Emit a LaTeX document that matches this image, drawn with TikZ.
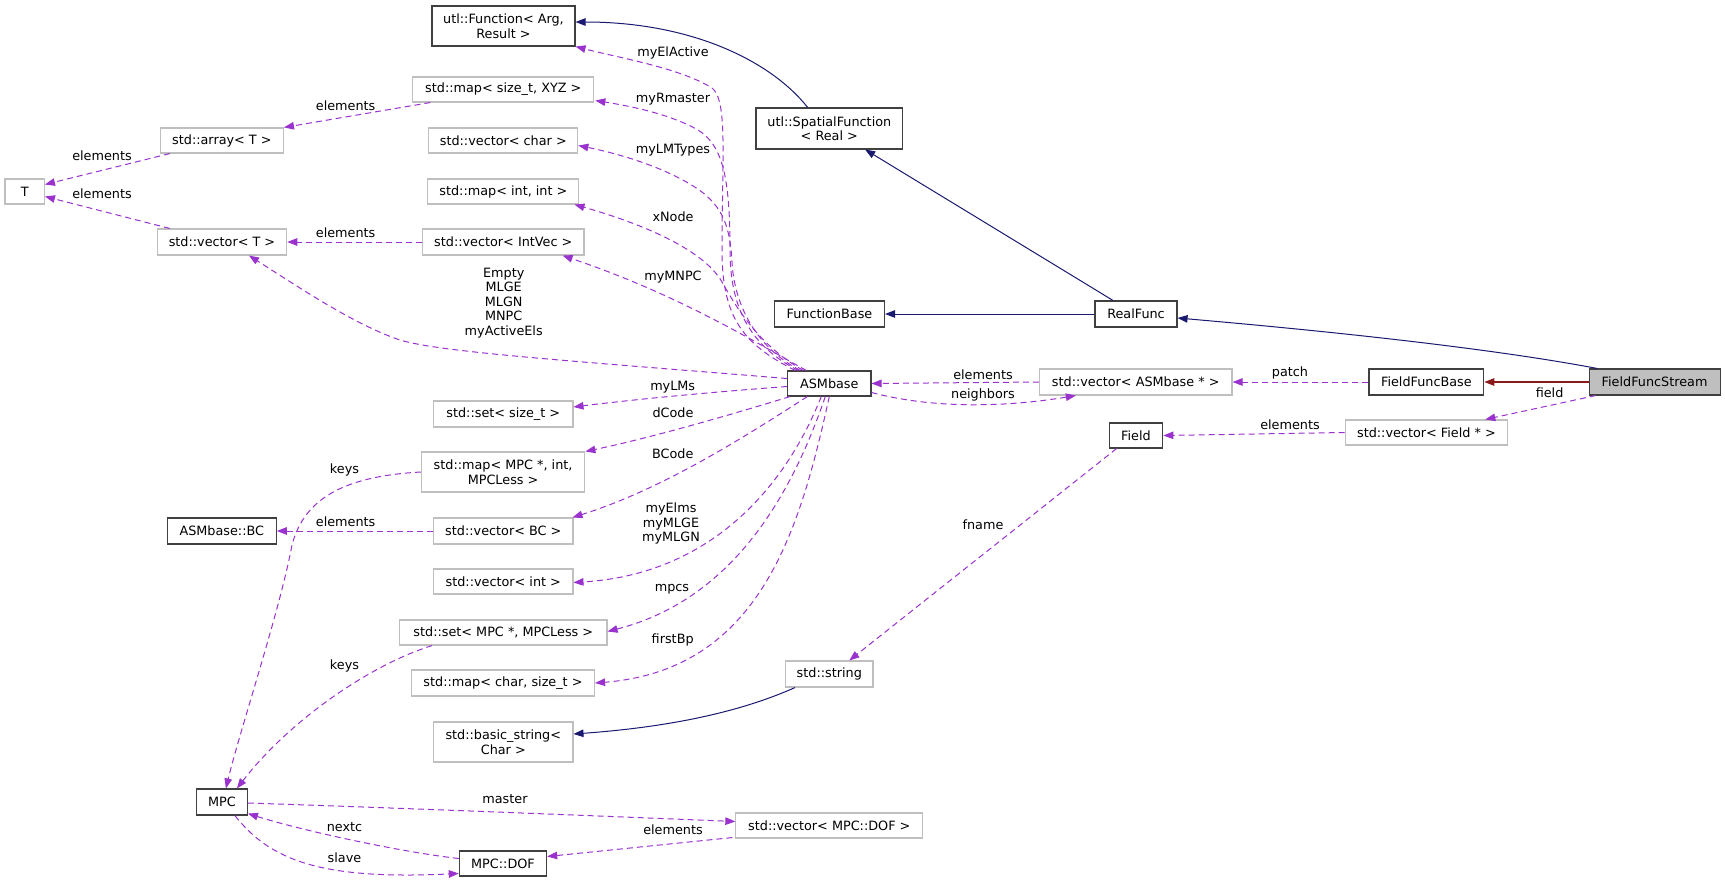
\documentclass[tikz,border=0pt]{standalone}
\usepackage{fontspec}
\setmainfont{DejaVu Sans}
\usetikzlibrary{arrows.meta,calc}
\definecolor{orchid}{HTML}{9A32CD}
\definecolor{navyblue}{HTML}{191970}
\definecolor{firebrick}{HTML}{8B1A1A}
\definecolor{grey75}{HTML}{BFBFBF}
\definecolor{boxline}{HTML}{404040}
\newcommand\dxfont{\fontsize{12.8}{14.5}\selectfont}
\begin{document}
\begin{tikzpicture}[x=1pt,y=-1pt,
  box/.style={rectangle, draw=boxline, line width=1.1pt, fill=white, inner sep=0pt, align=center, font=\dxfont, text=black},
  gbox/.style={box, draw=grey75},
  lab/.style={inner sep=0pt, align=center, font=\dxfont, text=black},
  tip/.style={-{Triangle[length=10pt,width=7.5pt]}},
  usedge/.style={tip, draw=orchid, line width=1pt, dash pattern=on 6pt off 4pt},
  inhedge/.style={tip, draw=navyblue, line width=1pt},
  privedge/.style={tip, draw=firebrick, line width=1.2pt}]
\fill[white] (0,0) rectangle (1725,884);
\useasboundingbox (0,0) rectangle (1725,884);

% nodes
\node[box, minimum width=143pt, minimum height=40pt] (fn) at (503.5,26) {utl::Function< Arg,\\Result >};
\node[gbox, minimum width=181pt, minimum height=25pt] (mapxyz) at (503.3,89.5) {std::map< size\_t, XYZ >};
\node[gbox, minimum width=123pt, minimum height=25pt] (arrT) at (221.9,140.5) {std::array< T >};
\node[gbox, minimum width=149pt, minimum height=25pt] (vchar) at (503.3,140.5) {std::vector< char >};
\node[gbox, minimum width=39.4pt, minimum height=25pt] (T) at (24.7,191.5) {T};
\node[gbox, minimum width=151pt, minimum height=25pt] (mapii) at (503.4,191.5) {std::map< int, int >};
\node[gbox, minimum width=129.4pt, minimum height=26pt] (vecT) at (222,242) {std::vector< T >};
\node[gbox, minimum width=161.4pt, minimum height=26pt] (vecIV) at (503.3,242) {std::vector< IntVec >};
\node[box, minimum width=146.6pt, minimum height=41pt] (spat) at (829.3,128.5) {utl::SpatialFunction\\< Real >};
\node[box, minimum width=110pt, minimum height=26pt] (fb) at (829.5,314) {FunctionBase};
\node[box, minimum width=82pt, minimum height=26pt] (rf) at (1136,314) {RealFunc};
\node[box, minimum width=83.4pt, minimum height=25pt] (asm) at (829.3,383.5) {ASMbase};
\node[gbox, minimum width=192.6pt, minimum height=26pt] (vasm) at (1135.7,382) {std::vector< ASMbase * >};
\node[box, minimum width=114.8pt, minimum height=26pt] (ffb) at (1426.4,382) {FieldFuncBase};
\node[box, fill=grey75, minimum width=131pt, minimum height=26pt] (ffs) at (1654.6,382) {FieldFuncStream};
\node[box, minimum width=53.7pt, minimum height=25pt] (field) at (1136,435.5) {Field};
\node[gbox, minimum width=162.7pt, minimum height=25pt] (vfield) at (1426.4,432.5) {std::vector< Field * >};
\node[gbox, minimum width=139.3pt, minimum height=26pt] (setst) at (503.3,414) {std::set< size\_t >};
\node[gbox, minimum width=163.5pt, minimum height=40pt] (mapmpc) at (503.1,472) {std::map< MPC *, int,\\MPCLess >};
\node[box, minimum width=109pt, minimum height=26pt] (bc) at (221.8,531) {ASMbase::BC};
\node[gbox, minimum width=139.3pt, minimum height=26pt] (vbc) at (503.3,531) {std::vector< BC >};
\node[gbox, minimum width=139.3pt, minimum height=25pt] (vint) at (503.3,581.5) {std::vector< int >};
\node[gbox, minimum width=207.4pt, minimum height=25pt] (setmpc) at (503.3,632.5) {std::set< MPC *, MPCLess >};
\node[gbox, minimum width=183pt, minimum height=26pt] (mapcs) at (503,683) {std::map< char, size\_t >};
\node[gbox, minimum width=139.3pt, minimum height=40pt] (bstr) at (503.3,742) {std::basic\_string<\\Char >};
\node[gbox, minimum width=87.4pt, minimum height=26pt] (str) at (829.3,674) {std::string};
\node[box, minimum width=51pt, minimum height=26pt] (mpc) at (221.9,802) {MPC};
\node[box, minimum width=87.3pt, minimum height=25pt] (dof) at (503,863.5) {MPC::DOF};
\node[gbox, minimum width=186.8pt, minimum height=25pt] (vdof) at (829.3,825.5) {std::vector< MPC::DOF >};

% labels
\node[lab] (l1) at (345.6,106) {elements};
\node[lab] (l2) at (102,156) {elements};
\node[lab] (l3) at (102,194) {elements};
\node[lab] (l4) at (345.6,233) {elements};
\node[lab] (l5) at (503.7,303) {Empty\\MLGE\\MLGN\\MNPC\\myActiveEls};
\node[lab] (l6) at (673,53) {myElActive};
\node[lab] (l7) at (673,99) {myRmaster};
\node[lab] (l8) at (673,150) {myLMTypes};
\node[lab] (l9) at (673,217) {xNode};
\node[lab] (l10) at (673,277) {myMNPC};
\node[lab] (l11) at (672.7,387) {myLMs};
\node[lab] (l12) at (673,413) {dCode};
\node[lab] (l13) at (672.7,454) {BCode};
\node[lab] (l14) at (671,523.5) {myElms\\myMLGE\\myMLGN};
\node[lab] (l15) at (672,589) {mpcs};
\node[lab] (l16) at (672.7,640) {firstBp};
\node[lab] (l17) at (983,375) {elements};
\node[lab] (l18) at (983,395) {neighbors};
\node[lab] (l19) at (983,525) {fname};
\node[lab] (l20) at (1290,373) {patch};
\node[lab] (l21) at (1549.6,393) {field};
\node[lab] (l22) at (1290,425) {elements};
\node[lab] (l23) at (344.5,470) {keys};
\node[lab] (l24) at (345.6,522) {elements};
\node[lab] (l25) at (344.5,666) {keys};
\node[lab] (l26) at (505,799) {master};
\node[lab] (l27) at (344.5,827) {nextc};
\node[lab] (l28) at (344.5,858) {slave};
\node[lab] (l29) at (673,830) {elements};

% inheritance
\draw[inhedge] ($(rf.north)+(-23,0)$) -- ($(spat.south east)+(-38,0)$);
\draw[inhedge] ($(spat.north)+(-21.6,0)$) .. controls (770,60) and (690,22) .. ($(fn.east)+(0,-4)$);
\draw[inhedge] (rf.west) -- (fb.east);
\draw[inhedge] ($(ffs.north west)+(8.6,0)$) .. controls (1500,350) and (1350,333) .. ($(rf.east)+(0,4)$);
\draw[inhedge] ($(str.south west)+(10,0)$) .. controls (740,712) and (670,727) .. ($(bstr.east)+(0,-8)$);
\draw[privedge] (ffs.west) -- (ffb.east);

% usage: ASMbase upward bundle
\draw[usedge] ($(asm.north)+(-34,0)$) .. controls (745,345) and (722,320) .. (722,250) .. controls (722,160) and (728,100) .. (712,88) .. controls (680,68) and (620,58) .. (fn.south east);
\draw[usedge] ($(asm.north)+(-31,0)$) .. controls (748,345) and (730,305) .. (730,250) .. controls (730,175) and (722,145) .. (698,130) .. controls (670,114) and (630,106) .. ($(mapxyz.south east)+(1,-2)$);
\draw[usedge] ($(asm.north)+(-29,0)$) .. controls (752,345) and (734,300) .. (732,262) .. controls (730,225) and (722,208) .. (702,192) .. controls (672,170) and (625,155) .. ($(vchar.east)+(0,5)$);
\draw[usedge] ($(asm.north)+(-26,0)$) .. controls (758,345) and (735,305) .. (722,282) .. controls (705,252) and (650,226) .. ($(mapii.south east)+(-5,0)$);
\draw[usedge] ($(asm.north)+(-23,0)$) .. controls (760,345) and (680,295) .. ($(vecIV.south east)+(-22,0)$);
\draw[usedge] ($(asm.west)+(0,-5)$) .. controls (560,360) and (440,352) .. (400,340) .. controls (355,325) and (300,288) .. ($(vecT.south)+(27,0)$);

% usage: ASMbase downward bundle
\draw[usedge] ($(asm.west)+(0,3)$) .. controls (700,393) and (630,400) .. ($(setst.east)+(0,-7)$);
\draw[usedge] ($(asm.south west)+(3,0)$) .. controls (730,415) and (650,438) .. (mapmpc.north east);
\draw[usedge] ($(asm.south)+(-22,0)$) .. controls (740,440) and (660,490) .. ($(vbc.north east)+(-1,0)$);
\draw[usedge] ($(asm.south)+(-8,0)$) .. controls (780,500) and (700,575) .. ($(vint.east)+(0,1)$);
\draw[usedge] ($(asm.south)+(-4,0)$) .. controls (790,500) and (730,600) .. ($(setmpc.east)+(0,-1)$);
\draw[usedge] (asm.south) .. controls (800,530) and (760,670) .. (mapcs.east);

% usage: right part
\draw[usedge] (vasm.west) -- (asm.east);
\draw[usedge] ($(asm.east)+(0,9)$) .. controls (930,408) and (1000,408) .. ($(vasm.south west)+(37,0)$);
\draw[usedge] (ffb.west) -- (vasm.east);
\draw[usedge] ($(ffs.south west)+(7,0)$) -- ($(vfield.north east)+(-23,0)$);
\draw[usedge] (vfield.west) -- (field.east);
\draw[usedge] ($(field.south west)+(8,0)$) -- ($(str.north)+(20,0)$);

% usage: left part
\draw[usedge] ($(mapxyz.south west)+(18,0)$) -- (arrT.north east);
\draw[usedge] ($(arrT.south west)+(10,0)$) -- ($(T.east)+(0,-7)$);
\draw[usedge] ($(vecT.north west)+(13,0)$) -- ($(T.east)+(0,5)$);
\draw[usedge] (vecIV.west) -- (vecT.east);
\draw[usedge] (vbc.west) -- (bc.east);
\draw[usedge] (mapmpc.west) .. controls (350,476) and (305,495) .. (292,545) .. controls (280,610) and (240,730) .. ($(mpc.north)+(4,0)$);
\draw[usedge] ($(setmpc.south west)+(33,0)$) .. controls (370,665) and (290,720) .. ($(mpc.north)+(15,0)$);
\draw[usedge] ($(mpc.east)+(0,1)$) .. controls (400,808) and (600,816) .. ($(vdof.west)+(0,-4)$);
\draw[usedge] ($(vdof.south west)+(-3,-1)$) -- ($(dof.east)+(0,-7)$);
\draw[usedge] ($(dof.west)+(0,-5)$) .. controls (400,852) and (300,830) .. ($(mpc.south east)+(0,-2)$);
\draw[usedge] ($(mpc.south)+(13,0)$) .. controls (270,860) and (320,880) .. ($(dof.west)+(0,10)$);
\end{tikzpicture}
\end{document}
